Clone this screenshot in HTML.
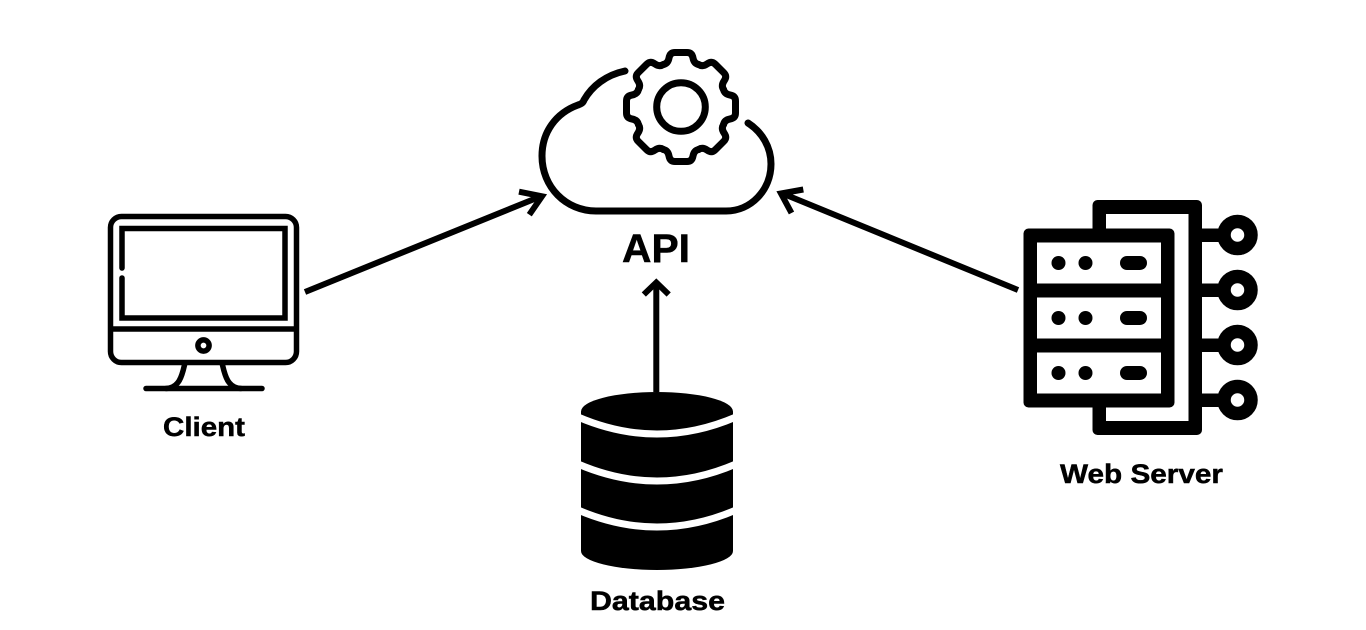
<!DOCTYPE html>
<html lang="en">
<head>
<meta charset="utf-8">
<title>API Diagram</title>
<style>
html,body{margin:0;padding:0;background:#fff;width:1366px;height:630px;overflow:hidden}
svg{display:block}
text{font-family:"Liberation Sans",sans-serif;font-weight:700;fill:#000;stroke:#000;stroke-width:.5px}
</style>
</head>
<body>
<svg width="1366" height="630" viewBox="0 0 1366 630" xmlns="http://www.w3.org/2000/svg">
<rect width="1366" height="630" fill="#fff"/>

<!-- Cloud -->
<g fill="none" stroke="#000" stroke-width="7" stroke-linecap="round" stroke-linejoin="round">
  <path d="M625,71 C606,75 592,86 584,100 C583,103 581,104 578,105 C556,113 542,132 542,156 C542,187 566,211 596,211 L726,211 C751,211 771,190 771,164 C771,147 762,132 748,123"/>
  <circle cx="681" cy="107" r="24.3"/>
  <g transform="translate(681 107)">
    <path d="M-17.6,-42.5 Q-13,-43.5 -12,-49 Q-11,-54.5 -6,-54.5 L6,-54.5 Q11,-54.5 12,-49 Q13,-43.5 17.6,-42.5"/>
    <path transform="rotate(45)" d="M-17.6,-42.5 Q-13,-43.5 -12,-49 Q-11,-54.5 -6,-54.5 L6,-54.5 Q11,-54.5 12,-49 Q13,-43.5 17.6,-42.5"/>
    <path transform="rotate(90)" d="M-17.6,-42.5 Q-13,-43.5 -12,-49 Q-11,-54.5 -6,-54.5 L6,-54.5 Q11,-54.5 12,-49 Q13,-43.5 17.6,-42.5"/>
    <path transform="rotate(135)" d="M-17.6,-42.5 Q-13,-43.5 -12,-49 Q-11,-54.5 -6,-54.5 L6,-54.5 Q11,-54.5 12,-49 Q13,-43.5 17.6,-42.5"/>
    <path transform="rotate(180)" d="M-17.6,-42.5 Q-13,-43.5 -12,-49 Q-11,-54.5 -6,-54.5 L6,-54.5 Q11,-54.5 12,-49 Q13,-43.5 17.6,-42.5"/>
    <path transform="rotate(225)" d="M-17.6,-42.5 Q-13,-43.5 -12,-49 Q-11,-54.5 -6,-54.5 L6,-54.5 Q11,-54.5 12,-49 Q13,-43.5 17.6,-42.5"/>
    <path transform="rotate(270)" d="M-17.6,-42.5 Q-13,-43.5 -12,-49 Q-11,-54.5 -6,-54.5 L6,-54.5 Q11,-54.5 12,-49 Q13,-43.5 17.6,-42.5"/>
    <path transform="rotate(315)" d="M-17.6,-42.5 Q-13,-43.5 -12,-49 Q-11,-54.5 -6,-54.5 L6,-54.5 Q11,-54.5 12,-49 Q13,-43.5 17.6,-42.5"/>
  </g>
</g>
<text x="622" y="262" font-size="39.5" textLength="68" lengthAdjust="spacingAndGlyphs">API</text>

<!-- Client monitor -->
<g fill="none" stroke="#000" stroke-width="5.5" stroke-linecap="round" stroke-linejoin="round">
  <rect x="110.5" y="216.5" width="186" height="146" rx="11"/>
  <path d="M122,268 V228.5 H285 V318 H122 V278" stroke-linejoin="miter"/>
  <path d="M111,329 H296" stroke-linecap="butt"/>
  <circle cx="203.5" cy="345.5" r="5.6"/>
  <path d="M184.5,365 C182,376 179,388 166,388.5"/>
  <path d="M222.5,365 C225,376 228,388 241,388.5"/>
  <path d="M146,388.5 H262"/>
</g>
<text x="163" y="436" font-size="27" textLength="82" lengthAdjust="spacingAndGlyphs">Client</text>

<!-- Database -->
<path d="M581,411.5 A76,19.5 0 0 1 733,411.5 V551 A76,19 0 0 1 581,551 Z" fill="#000"/>
<g fill="none" stroke="#fff" stroke-width="7">
  <path d="M578,417 Q657,451 736,417"/>
  <path d="M578,464 Q657,498 736,464"/>
  <path d="M578,510 Q657,544 736,510"/>
</g>
<text x="590" y="610" font-size="27" textLength="135" lengthAdjust="spacingAndGlyphs">Database</text>

<!-- Web server -->
<rect x="1092.5" y="200" width="109.5" height="235" rx="5" fill="#000"/>
<rect x="1106" y="214" width="82.5" height="207" fill="#fff"/>
<rect x="1023.5" y="228.5" width="151" height="179" rx="5" fill="#000"/>
<g fill="#fff">
  <rect x="1037" y="242.5" width="124" height="41"/>
  <rect x="1037" y="297.5" width="124" height="41"/>
  <rect x="1037" y="352.5" width="124" height="41"/>
</g>
<g fill="#000">
  <circle cx="1058.5" cy="263" r="7"/><circle cx="1085.5" cy="263" r="7"/><rect x="1120" y="256" width="27" height="14" rx="7"/>
  <circle cx="1058.5" cy="318" r="7"/><circle cx="1085.5" cy="318" r="7"/><rect x="1120" y="311" width="27" height="14" rx="7"/>
  <circle cx="1058.5" cy="373" r="7"/><circle cx="1085.5" cy="373" r="7"/><rect x="1120" y="366" width="27" height="14" rx="7"/>
  <rect x="1200" y="228.5" width="28" height="13.5"/>
  <rect x="1200" y="283.5" width="28" height="13.5"/>
  <rect x="1200" y="338.5" width="28" height="13.5"/>
  <rect x="1200" y="393.5" width="28" height="13.5"/>
</g>
<g fill="#fff" stroke="#000" stroke-width="13.5">
  <circle cx="1237.5" cy="235" r="13.5"/>
  <circle cx="1237.5" cy="290" r="13.5"/>
  <circle cx="1237.5" cy="345" r="13.5"/>
  <circle cx="1237.5" cy="400" r="13.5"/>
</g>
<text x="1060" y="483" font-size="27" textLength="163" lengthAdjust="spacingAndGlyphs">Web Server</text>

<!-- Arrows -->
<g fill="none" stroke="#000" stroke-width="6" stroke-linejoin="miter" stroke-miterlimit="10">
  <path d="M305,292 L538,197.5"/>
  <path d="M519,191.7 L542,196.3 L529.3,214.7"/>
  <path d="M656.3,392 V286"/>
  <path d="M643.8,294.5 L656.3,282.5 L668.7,294.5"/>
  <path d="M1018,290 L785,194.5"/>
  <path d="M803.3,189.5 L781,193.5 L791.5,213"/>
</g>
</svg>
</body>
</html>
